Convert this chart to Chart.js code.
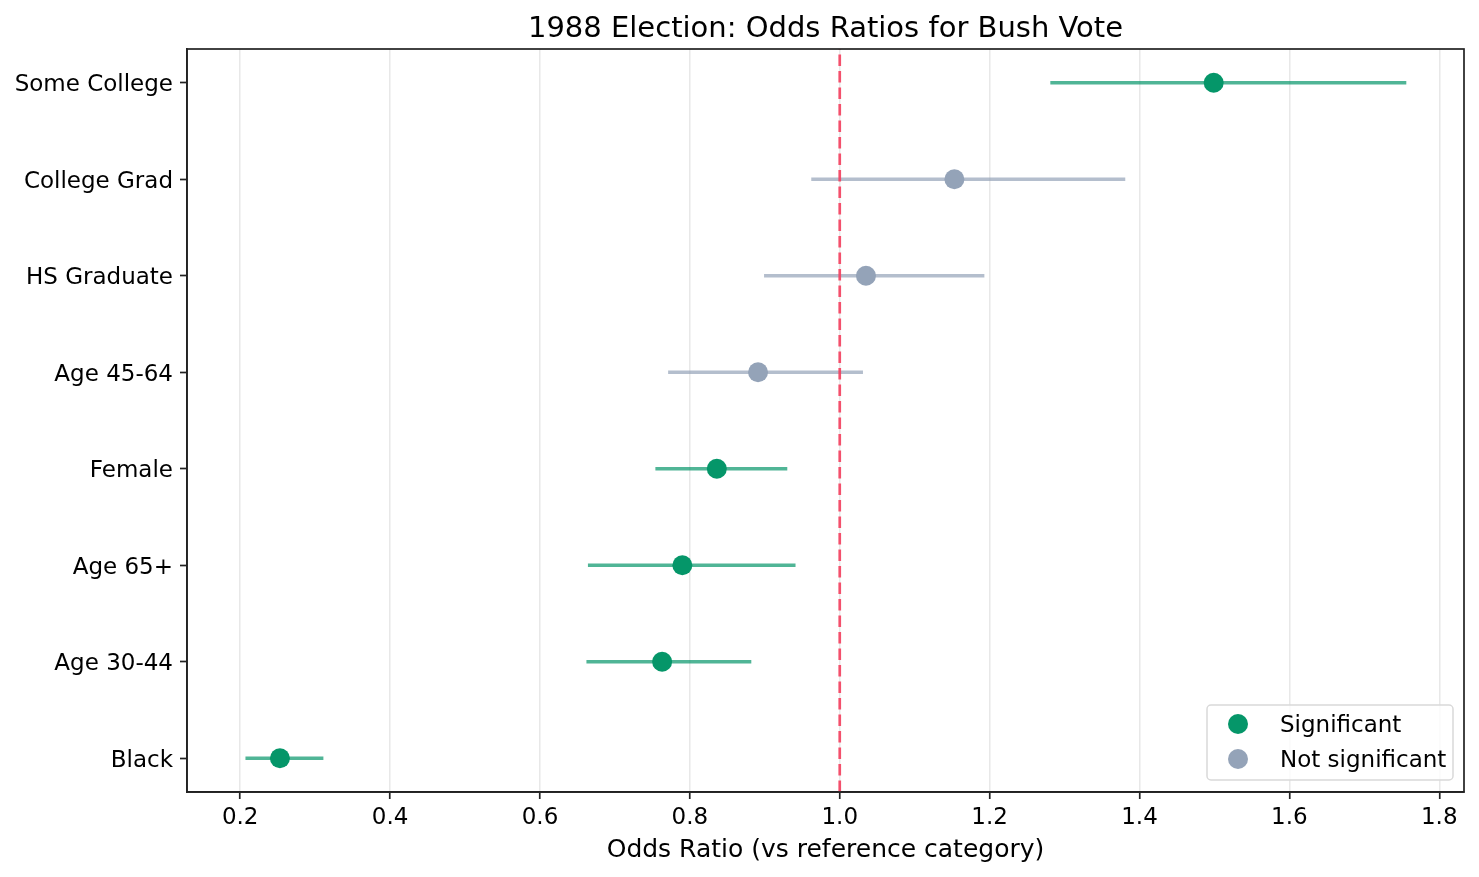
<!DOCTYPE html>
<html>
<head>
<meta charset="utf-8">
<script src="https://cdn.jsdelivr.net/npm/chart.js@4.4.1/dist/chart.umd.min.js"></script>
<style>
  html, body { margin: 0; padding: 0; background: #ffffff; }
  #wrap { width: 1479px; height: 877px; }
</style>
</head>
<body>
<div id="wrap"><canvas id="c" width="1479" height="877"></canvas></div>
<script>
// ---- Data ----
const categories   = ['Black', 'Age 30-44', 'Age 65+', 'Female', 'Age 45-64', 'HS Graduate', 'College Grad', 'Some College'];
const oddsRatios   = [0.253, 0.763, 0.790, 0.836, 0.891, 1.035, 1.153, 1.499];
const ciLower      = [0.207, 0.662, 0.664, 0.754, 0.771, 0.899, 0.962, 1.281];
const ciUpper      = [0.311, 0.882, 0.941, 0.930, 1.031, 1.193, 1.381, 1.756];
const significant  = [true,  true,  true,  true,  false, false, false, true];
const xTicks       = [0.2, 0.4, 0.6, 0.8, 1.0, 1.2, 1.4, 1.6, 1.8];
const referenceOR  = 1.0;
const titleText    = '1988 Election: Odds Ratios for Bush Vote';
const xLabelText   = 'Odds Ratio (vs reference category)';
const legendLabels = ['Significant', 'Not significant'];

// ---- Styles ----
const GREEN = '#059669';
const GREEN_BAR = 'rgba(5,150,105,0.7)';
const GRAY = '#94a3b8';
const GRAY_BAR = 'rgba(148,163,184,0.7)';
const REF = 'rgba(244,63,94,0.9)';
const FONT = "'DejaVu Sans', sans-serif";
const TICK_PX = 23, TITLE_PX = 29, LABEL_PX = 25, LEGEND_PX = 23;

const datasets = [];
// error bars
categories.forEach((cat, i) => {
  datasets.push({
    type: 'line',
    label: 'ci-' + cat,
    data: [{x: ciLower[i], y: i}, {x: ciUpper[i], y: i}],
    borderColor: significant[i] ? GREEN_BAR : GRAY_BAR,
    borderWidth: 3.3,
    pointRadius: 0,
    order: 2,
    isAux: true
  });
});
// reference line
datasets.push({
  type: 'line',
  label: 'ref',
  data: [{x: referenceOR, y: -0.35}, {x: referenceOR, y: categories.length - 1 + 0.35}],
  borderColor: REF,
  borderWidth: 2.7,
  borderDash: [11.5, 5],
  pointRadius: 0,
  order: 1,
  isAux: true
});
// points
const sigPts = [], nsPts = [];
categories.forEach((cat, i) => {
  (significant[i] ? sigPts : nsPts).push({x: oddsRatios[i], y: i});
});
datasets.push({ type: 'scatter', label: legendLabels[0], data: sigPts, backgroundColor: GREEN, borderColor: GREEN, pointRadius: 10, borderWidth: 0, order: 0 });
datasets.push({ type: 'scatter', label: legendLabels[1], data: nsPts, backgroundColor: GRAY, borderColor: GRAY, pointRadius: 10, borderWidth: 0, order: 0 });

const framePlugin = {
  id: 'frame',
  afterDraw(chart) {
    const {ctx, chartArea: a} = chart;
    ctx.save();
    // spines
    ctx.strokeStyle = '#222222';
    ctx.lineWidth = 1.7;
    ctx.strokeRect(a.left, a.top, a.right - a.left, a.bottom - a.top);
    // title
    ctx.fillStyle = '#000000';
    ctx.font = TITLE_PX + 'px ' + FONT;
    ctx.textAlign = 'center';
    ctx.textBaseline = 'alphabetic';
    ctx.fillText(titleText, (a.left + a.right) / 2, a.top - 12);
    // legend
    const pts = chart.data.datasets.filter(d => !d.isAux);
    const bw = 246, bh = 75;
    const bx = a.right - 11 - bw, by = a.bottom - 12 - bh;
    ctx.beginPath();
    const r = 4;
    ctx.moveTo(bx + r, by);
    ctx.arcTo(bx + bw, by, bx + bw, by + bh, r);
    ctx.arcTo(bx + bw, by + bh, bx, by + bh, r);
    ctx.arcTo(bx, by + bh, bx, by, r);
    ctx.arcTo(bx, by, bx + bw, by, r);
    ctx.closePath();
    ctx.fillStyle = 'rgba(255,255,255,0.8)';
    ctx.fill();
    ctx.strokeStyle = '#d9d9d9';
    ctx.lineWidth = 1.5;
    ctx.stroke();
    ctx.font = LEGEND_PX + 'px ' + FONT;
    ctx.textAlign = 'left';
    ctx.textBaseline = 'middle';
    pts.forEach((d, k) => {
      const cy = by + 19 + k * 35;
      ctx.beginPath();
      ctx.arc(bx + 31, cy, 10, 0, Math.PI * 2);
      ctx.fillStyle = d.backgroundColor;
      ctx.fill();
      ctx.fillStyle = '#000000';
      ctx.fillText(d.label, bx + 73, cy + 2);
    });
    ctx.restore();
  }
};

new Chart(document.getElementById('c'), {
  data: { datasets },
  options: {
    responsive: false,
    animation: false,
    devicePixelRatio: 1,
    layout: { padding: { top: 49, right: 15, left: 0, bottom: 0 } },
    plugins: {
      legend: { display: false },
      tooltip: { enabled: false },
      title: { display: false }
    },
    scales: {
      x: {
        type: 'linear',
        min: 0.129,
        max: 1.833,
        afterFit(s) { s.height = 85; },
        afterBuildTicks(s) { s.ticks = xTicks.map(v => ({value: v})); },
        ticks: {
          font: { family: FONT, size: TICK_PX },
          color: '#000000',
          padding: 5,
          maxRotation: 0,
          callback: v => v.toFixed(1)
        },
        grid: {
          color: '#e8e8e8',
          lineWidth: 1.5,
          tickColor: '#222222',
          tickLength: 7,
          tickWidth: 1.7,
          drawOnChartArea: true
        },
        border: { display: true, color: '#222222', width: 1.7 },
        title: {
          display: true,
          text: xLabelText,
          font: { family: FONT, size: LABEL_PX },
          color: '#000000',
          padding: { top: 2, bottom: 12 }
        }
      },
      y: {
        type: 'linear',
        min: -0.35,
        max: categories.length - 1 + 0.35,
        afterFit(s) { s.width = 187; },
        afterBuildTicks(s) { s.ticks = categories.map((c, i) => ({value: i})); },
        ticks: {
          font: { family: FONT, size: TICK_PX },
          color: '#000000',
          padding: 7,
          labelOffset: 2.5,
          callback: v => categories[v]
        },
        grid: {
          drawOnChartArea: false,
          tickColor: '#222222',
          tickLength: 7,
          tickWidth: 1.7
        },
        border: { display: true, color: '#222222', width: 1.7 }
      }
    }
  },
  plugins: [framePlugin]
});
</script>
</body>
</html>
